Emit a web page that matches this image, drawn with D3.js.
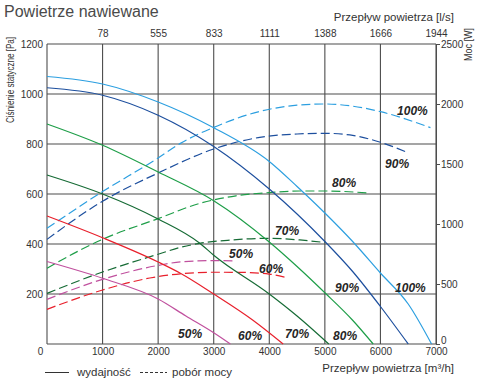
<!DOCTYPE html>
<html><head><meta charset="utf-8">
<script src="https://cdn.jsdelivr.net/npm/d3@7"></script>
<style>
html,body{margin:0;padding:0;background:#fff;}
text{font-family:"Liberation Sans",Arial,sans-serif;}
</style></head>
<body>
<svg id="chart" width="480" height="390"></svg>
<script>
// ---- data ----
const flowTicks = [0,1000,2000,3000,4000,5000,6000,7000];
const flowLsLabels = ["78","555","833","1111","1388","1666","1944"];
const pressureTicks = [200,400,600,800,1000,1200];
const powerTicks = [0,500,1000,1500,2000,2500];
const speeds = ["100%","90%","80%","70%","60%","50%"];
const colors = ["#2c9fe0","#1d4f9e","#1e9e48","#166b35","#e8202c","#c0509e"];

// static pressure [m3/h, Pa]
const pressure100 = [[0,1070],[1000,1040],[2000,968],[3000,865],[4000,730],[4500,630],[5000,524],[5500,410],[6000,284],[6500,160],[6920,0]];
const pressure90  = [[0,1025],[1000,995],[2000,915],[3000,790],[4000,620],[4500,520],[5000,410],[5500,290],[6000,150],[6500,0]];
const pressure80  = [[0,880],[1000,795],[2000,688],[3000,573],[4000,408],[4500,310],[5000,205],[5500,95],[5870,0]];
const pressure70  = [[0,676],[1000,600],[2000,500],[2750,403],[3000,355],[4000,200],[4500,112],[5070,0]];
const pressure60  = [[0,512],[1000,425],[2000,328],[2400,283],[3000,200],[3700,96],[4250,0]];
const pressure50  = [[0,330],[1000,263],[2000,180],[2500,112],[3000,45],[3300,0]];

// power consumption [m3/h, W]
const power100 = [[0,965],[1000,1270],[2000,1550],[2400,1672],[3000,1805],[3800,1935],[4500,1990],[5000,2000],[5500,1982],[6000,1936],[6900,1803]];
const power90  = [[0,872],[1000,1190],[2000,1425],[3000,1625],[3800,1720],[4500,1750],[5000,1756],[5450,1742],[6000,1681],[6500,1594]];
const power80  = [[0,631],[600,783],[1000,872],[2000,1045],[2750,1172],[3400,1235],[4000,1262],[4550,1275],[5000,1275],[5800,1258]];
const power70  = [[0,422],[1000,600],[2000,748],[2400,805],[2750,839],[3300,866],[4000,881],[4550,867],[5000,846]];
const power60  = [[0,289],[1000,450],[1850,550],[2400,585],[3000,598],[3500,597],[4000,583],[4280,556]];
const power50  = [[0,372],[1000,539],[2000,655],[2400,684],[3000,695],[3350,692]];

const pressureSeries = [pressure100,pressure90,pressure80,pressure70,pressure60,pressure50];
const powerSeries = [power100,power90,power80,power70,power60,power50];

// label anchors in data units [m3/h, Pa]
const powerLabelAt    = [[6300,916],[6084,704],[5130,628],[4104,436],[3816,284],[3276,344]];
const pressureLabelAt = [[6264,208],[5184,208],[5148,16],[4284,24],[3438,16],[2358,24]];

// ---- drawing ----
const svg = d3.select("#chart");
const x = d3.scaleLinear().domain([0,7000]).range([47,436]);
const y = d3.scaleLinear().domain([0,1200]).range([344,44]);
const yW = d3.scaleLinear().domain([0,2500]).range([344,44]);
const gridColor = "#4d4d4d";
const textColor = "#333";
const fmt = d3.format("d");

// title
svg.append("text").attr("x",4).attr("y",17).attr("font-size",16).attr("fill","#4a4a4a").text("Powietrze nawiewane");

// grid
const g = svg.append("g");
g.selectAll("line.v").data(flowTicks).join("line")
  .attr("x1",d=>x(d)).attr("x2",d=>x(d)).attr("y1",y(0)).attr("y2",y(1200))
  .attr("stroke",gridColor).attr("stroke-width",1.1);
g.selectAll("line.h").data([0].concat(pressureTicks)).join("line")
  .attr("x1",x(0)).attr("x2",x(7000)).attr("y1",d=>y(d)).attr("y2",d=>y(d))
  .attr("stroke",gridColor).attr("stroke-width",1.1);

// left axis labels
svg.append("g").attr("transform",`translate(${x(0)},0)`)
  .call(d3.axisLeft(y).tickValues(pressureTicks).tickSize(0).tickPadding(4).tickFormat(fmt))
  .call(a=>{a.select(".domain").remove(); a.selectAll("text").attr("font-size",10).attr("fill",textColor).attr("font-family","Liberation Sans, Arial");});

// bottom axis labels
svg.append("g").attr("transform",`translate(0,${y(0)})`)
  .call(d3.axisBottom(x).tickValues(flowTicks).tickSize(0).tickPadding(4).tickFormat(fmt))
  .call(a=>{a.select(".domain").remove(); a.selectAll("text").attr("font-size",10).attr("fill",textColor).attr("font-family","Liberation Sans, Arial");
    a.selectAll(".tick").filter(d=>d===0).select("text").attr("dx",-7);});

// top axis (l/s)
svg.append("g").attr("transform",`translate(0,${y(1200)})`)
  .call(d3.axisTop(x).tickValues(flowTicks.slice(1)).tickSize(0).tickPadding(7).tickFormat((d,i)=>flowLsLabels[i]))
  .call(a=>{a.select(".domain").remove(); a.selectAll("text").attr("font-size",10).attr("fill",textColor).attr("font-family","Liberation Sans, Arial");});

// right axis (W)
svg.append("g").attr("transform",`translate(${x(7000)},0)`)
  .call(d3.axisRight(yW).tickValues(powerTicks).tickSize(4).tickPadding(1).tickFormat(fmt))
  .call(a=>{a.select(".domain").attr("stroke",gridColor); a.selectAll("line").attr("stroke",gridColor);
    a.selectAll("text").attr("font-size",10).attr("fill",textColor).attr("font-family","Liberation Sans, Arial");
    a.selectAll(".tick").filter(d=>d===0).select("text").attr("dy","-0.05em");});

// axis titles
svg.append("text").attr("transform","translate(14,37) rotate(-90)").attr("text-anchor","end")
  .attr("font-size",10.5).attr("fill",textColor)
  .attr("textLength",86).attr("lengthAdjust","spacingAndGlyphs").text("Ciśnienie statyczne [Pa]");
svg.append("text").attr("transform","translate(472,28) rotate(-90)").attr("text-anchor","end")
  .attr("font-size",10.5).attr("fill",textColor)
  .attr("textLength",33).attr("lengthAdjust","spacingAndGlyphs").text("Moc [W]");
svg.append("text").attr("x",454).attr("y",21).attr("text-anchor","end")
  .attr("font-size",11.5).attr("fill",textColor).text("Przepływ powietrza [l/s]");
svg.append("text").attr("x",454).attr("y",372).attr("text-anchor","end")
  .attr("font-size",11.5).attr("fill",textColor).text("Przepływ powietrza [m³/h]");

// curves
const lineP = d3.line().x(d=>x(d[0])).y(d=>y(d[1])).curve(d3.curveMonotoneX);
const lineW = d3.line().x(d=>x(d[0])).y(d=>yW(d[1])).curve(d3.curveMonotoneX);
const curves = svg.append("g").attr("fill","none");
powerSeries.forEach((s,i)=>{
  curves.append("path").attr("d",lineW(s)).attr("stroke",colors[i]).attr("stroke-width",1.2).attr("stroke-dasharray","9,4");
});
pressureSeries.forEach((s,i)=>{
  curves.append("path").attr("d",lineP(s)).attr("stroke",colors[i]).attr("stroke-width",1.2);
});

// speed labels
const lab = svg.append("g").attr("font-size",12).attr("font-weight","bold").attr("font-style","italic").attr("fill","#262626");
speeds.forEach((s,i)=>{
  lab.append("text").attr("x",x(powerLabelAt[i][0])).attr("y",y(powerLabelAt[i][1])).text(s);
  lab.append("text").attr("x",x(pressureLabelAt[i][0])).attr("y",y(pressureLabelAt[i][1])).text(s);
});

// legend
const lg = svg.append("g");
lg.append("line").attr("x1",45).attr("x2",69).attr("y1",372.5).attr("y2",372.5).attr("stroke","#333").attr("stroke-width",1);
lg.append("text").attr("x",77).attr("y",376).attr("font-size",11.5).attr("fill",textColor).text("wydajność");
lg.append("line").attr("x1",140).attr("x2",167).attr("y1",372.5).attr("y2",372.5).attr("stroke","#333").attr("stroke-width",1).attr("stroke-dasharray","3,2");
lg.append("text").attr("x",172).attr("y",376).attr("font-size",11.5).attr("fill",textColor).text("pobór mocy");
</script>
</body></html>
